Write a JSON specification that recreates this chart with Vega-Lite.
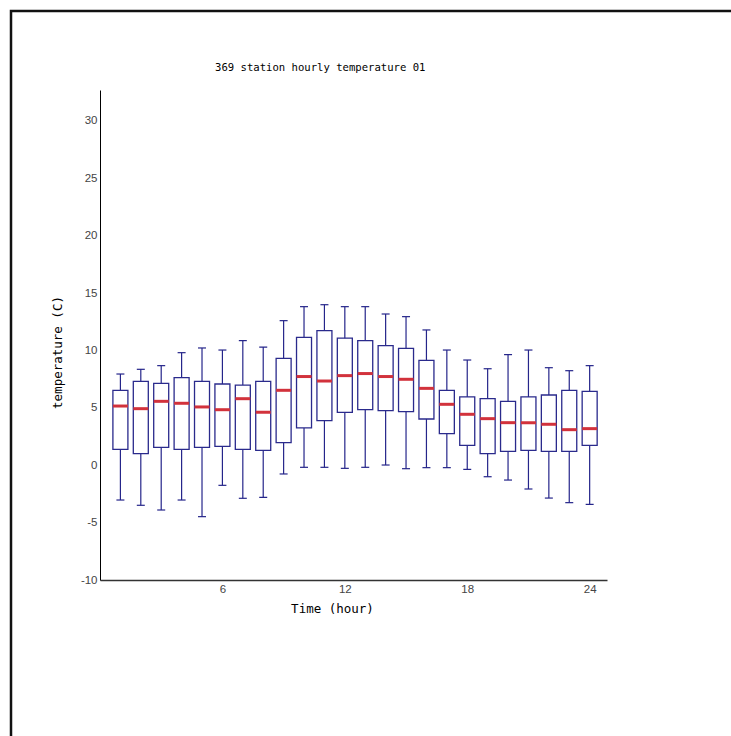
{
  "$schema": "https://vega.github.io/schema/vega-lite/v6.json",
  "autosize": "none",
  "padding": {"left": 11, "top": 11, "right": 0, "bottom": 0},
  "width": 720,
  "height": 725,
  "background": "white",
  "view": {"stroke": "#111", "strokeWidth": 2.5, "strokeDash": [720, 1445, 725], "fill": "white"},
  "title": {
    "text": "369 station hourly temperature 01",
    "font": "DejaVu Sans Mono",
    "fontSize": 10.6,
    "fontWeight": "normal",
    "color": "#000",
    "anchor": "start",
    "dx": 204,
    "offset": -63
  },
  "data": {
    "values": [
      {"hour": 1, "high": 7.95, "q3": 6.53, "median": 5.16, "q1": 1.39, "low": -3.03},
      {"hour": 2, "high": 8.36, "q3": 7.31, "median": 4.93, "q1": 1.01, "low": -3.49},
      {"hour": 3, "high": 8.68, "q3": 7.14, "median": 5.57, "q1": 1.56, "low": -3.90},
      {"hour": 4, "high": 9.81, "q3": 7.64, "median": 5.40, "q1": 1.39, "low": -3.03},
      {"hour": 5, "high": 10.22, "q3": 7.31, "median": 5.08, "q1": 1.56, "low": -4.48},
      {"hour": 6, "high": 10.04, "q3": 7.08, "median": 4.84, "q1": 1.65, "low": -1.75},
      {"hour": 7, "high": 10.86, "q3": 6.99, "median": 5.80, "q1": 1.39, "low": -2.88},
      {"hour": 8, "high": 10.30, "q3": 7.31, "median": 4.61, "q1": 1.30, "low": -2.80},
      {"hour": 9, "high": 12.60, "q3": 9.32, "median": 6.53, "q1": 1.97, "low": -0.76},
      {"hour": 10, "high": 13.82, "q3": 11.15, "median": 7.73, "q1": 3.25, "low": -0.18},
      {"hour": 11, "high": 13.99, "q3": 11.73, "median": 7.34, "q1": 3.88, "low": -0.18},
      {"hour": 12, "high": 13.82, "q3": 11.07, "median": 7.81, "q1": 4.61, "low": -0.27},
      {"hour": 13, "high": 13.82, "q3": 10.86, "median": 7.99, "q1": 4.84, "low": -0.18},
      {"hour": 14, "high": 13.18, "q3": 10.42, "median": 7.73, "q1": 4.76, "low": 0.02},
      {"hour": 15, "high": 12.95, "q3": 10.19, "median": 7.49, "q1": 4.67, "low": -0.30},
      {"hour": 16, "high": 11.79, "q3": 9.14, "median": 6.70, "q1": 4.03, "low": -0.21},
      {"hour": 17, "high": 10.04, "q3": 6.53, "median": 5.31, "q1": 2.75, "low": -0.21},
      {"hour": 18, "high": 9.17, "q3": 5.95, "median": 4.44, "q1": 1.74, "low": -0.36},
      {"hour": 19, "high": 8.41, "q3": 5.80, "median": 4.06, "q1": 1.01, "low": -1.00},
      {"hour": 20, "high": 9.64, "q3": 5.57, "median": 3.71, "q1": 1.21, "low": -1.29},
      {"hour": 21, "high": 10.04, "q3": 5.95, "median": 3.71, "q1": 1.30, "low": -2.07},
      {"hour": 22, "high": 8.50, "q3": 6.12, "median": 3.57, "q1": 1.21, "low": -2.86},
      {"hour": 23, "high": 8.24, "q3": 6.53, "median": 3.10, "q1": 1.21, "low": -3.26},
      {"hour": 24, "high": 8.68, "q3": 6.44, "median": 3.19, "q1": 1.74, "low": -3.41}
    ]
  },
  "encoding": {
    "x": {
      "field": "hour",
      "type": "quantitative",
      "scale": {"domain": [0, 24.85], "range": [89, 596], "nice": false, "zero": false, "padding": 0},
      "axis": {
        "title": "Time (hour)",
        "values": [6, 12, 18, 24],
        "offset": -156,
        "grid": false,
        "ticks": false,
        "domainColor": "#333",
        "domainWidth": 1.5,
        "labelFont": "Liberation Sans",
        "labelFontSize": 11.5,
        "labelColor": "#444",
        "labelPadding": 3,
        "titleFont": "DejaVu Sans Mono",
        "titleFontSize": 12.5,
        "titleFontWeight": "normal",
        "titleColor": "#000",
        "titleX": 321,
        "titleY": 22,
        "titleAlign": "center",
        "titleBaseline": "top"
      }
    }
  },
  "layer": [
    {
      "mark": {"type": "rule", "color": "#25258a", "strokeWidth": 1.2},
      "encoding": {
        "y": {
          "field": "low",
          "type": "quantitative",
          "scale": {"domain": [-10, 32.7], "range": [569, 79], "nice": false, "zero": false, "padding": 0},
          "axis": {
            "title": "temperature (C)",
            "values": [-10, -5, 0, 5, 10, 15, 20, 25, 30],
            "labelExpr": "toString(datum.value)",
            "offset": -89,
            "grid": false,
            "ticks": false,
            "domainColor": "#000",
            "domainWidth": 1,
            "labelFont": "Liberation Sans",
            "labelFontSize": 11.5,
            "labelColor": "#444",
            "labelPadding": 3,
            "titleFont": "DejaVu Sans Mono",
            "titleFontSize": 12.5,
            "titleFontWeight": "normal",
            "titleColor": "#000",
            "titleX": -43,
            "titleY": 341,
            "titleAngle": -90,
            "titleAlign": "center",
            "titleBaseline": "middle"
          }
        },
        "y2": {"field": "high"}
      }
    },
    {
      "mark": {"type": "tick", "orient": "horizontal", "size": 8, "thickness": 1.2, "color": "#25258a", "opacity": 1},
      "encoding": {"y": {"field": "low", "type": "quantitative"}}
    },
    {
      "mark": {"type": "tick", "orient": "horizontal", "size": 8, "thickness": 1.2, "color": "#25258a", "opacity": 1},
      "encoding": {"y": {"field": "high", "type": "quantitative"}}
    },
    {
      "mark": {"type": "bar", "width": 15, "fill": "white", "stroke": "#2a2a8c", "strokeWidth": 1.3, "opacity": 1},
      "encoding": {
        "y": {"field": "q1", "type": "quantitative"},
        "y2": {"field": "q3"}
      }
    },
    {
      "mark": {"type": "tick", "orient": "horizontal", "size": 15, "thickness": 3, "color": "#d2323c", "opacity": 1},
      "encoding": {"y": {"field": "median", "type": "quantitative"}}
    }
  ]
}
